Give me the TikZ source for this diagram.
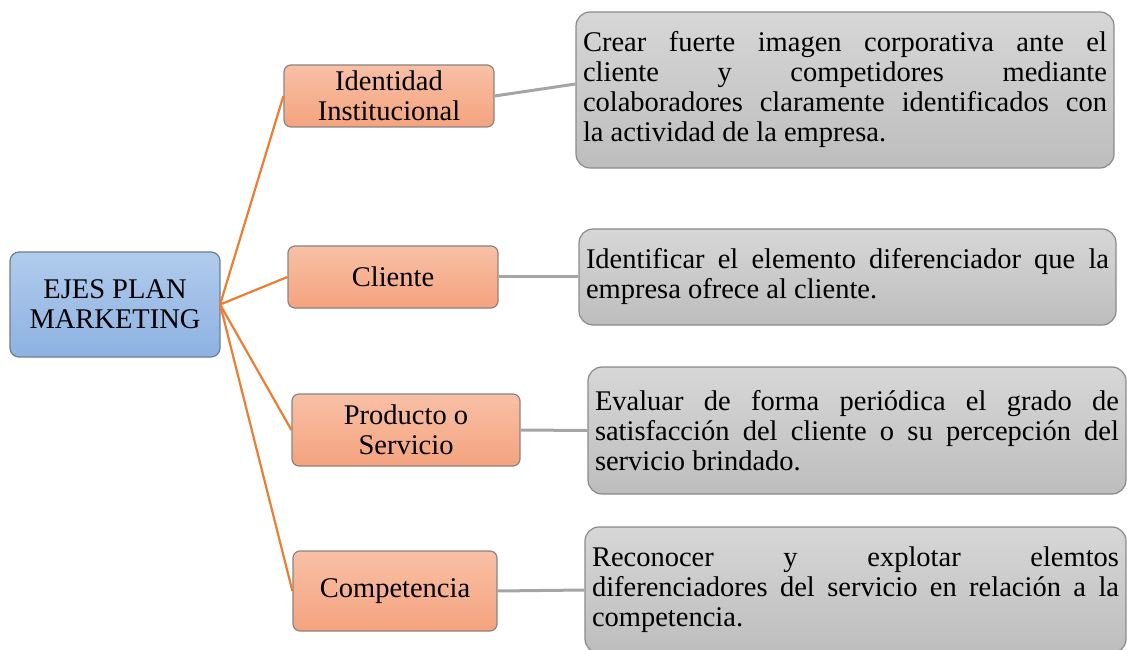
\documentclass[tikz,border=0pt]{standalone}
\usepackage{fontspec}
\setmainfont{Liberation Serif}[Ligatures=CommonOff]
\definecolor{otop}{HTML}{F8C0A6}
\definecolor{obot}{HTML}{F4A37E}
\definecolor{obord}{HTML}{8C8480}
\definecolor{btop}{HTML}{B1CBEC}
\definecolor{bbot}{HTML}{8DB2E2}
\definecolor{bbord}{HTML}{6E7E92}
\definecolor{gtop}{HTML}{D7D7D7}
\definecolor{gbot}{HTML}{BDBDBD}
\definecolor{gbord}{HTML}{8A8A8A}
\definecolor{oline}{HTML}{ED7D31}
\definecolor{gline}{HTML}{A5A5A5}
\begin{document}
\begin{tikzpicture}[x=1pt,y=1pt,
  txt/.style={font=\fontsize{28.5}{30}\selectfont},
  mainbox/.style={txt,draw=bbord,line width=1.2pt,top color=btop,bottom color=bbot,rounded corners=9pt,align=center,inner sep=0pt},
  obox/.style={txt,draw=obord,line width=1.2pt,top color=otop,bottom color=obot,rounded corners=7pt,align=center,inner sep=0pt},
  gbox/.style={txt,draw=gbord,line width=1.2pt,top color=gtop,bottom color=gbot,rounded corners=14pt,align=justify,inner xsep=7pt,inner ysep=0pt},
  oconn/.style={draw=oline,line width=2.2pt},
  gconn/.style={draw=gline,line width=3pt}]
\useasboundingbox (0,0) rectangle (1127,649);
\clip (0,0) rectangle (1127,649);
% central node
\node[mainbox,minimum width=210,minimum height=105] (main) at (115,344.5) {EJES PLAN\\MARKETING};
% orange nodes
\node[obox,minimum width=210,minimum height=62] (ide) at (389,553) {Identidad\\Institucional};
\node[obox,minimum width=210,minimum height=62] (cli) at (393,372) {Cliente};
\node[obox,minimum width=228,minimum height=72] (pro) at (406,219) {Producto o\\Servicio};
\node[obox,minimum width=204,minimum height=80] (com) at (395,58) {Competencia};
% gray nodes
\node[gbox,text width=524,minimum height=156] (g1) at (845,559)
  {Crear fuerte imagen corporativa ante el\linebreak cliente y competidores mediante\linebreak colaboradores claramente identificados con\linebreak la actividad de la empresa.};
\node[gbox,text width=523,minimum height=96] (g2) at (847.5,372)
  {Identificar el elemento diferenciador que la\linebreak empresa ofrece al cliente.};
\node[gbox,text width=524,minimum height=127] (g3) at (857,218.5)
  {Evaluar de forma peri\'odica el grado de\linebreak satisfacci\'on del cliente o su percepci\'on del\linebreak servicio brindado.};
\node[gbox,text width=527,minimum height=126] (g4) at (855.5,59)
  {Reconocer y explotar elemtos\linebreak diferenciadores del servicio en relaci\'on a la\linebreak competencia.};
% connectors
\coordinate (hub) at ([xshift=-0.5pt]main.east);
\draw[oconn] (hub) -- (ide.west);
\draw[oconn] (hub) -- (cli.west);
\draw[oconn] (hub) -- (pro.west);
\draw[oconn] (hub) -- (com.west);
\draw[gconn] (ide.east) -- ([yshift=6pt]g1.west);
\draw[gconn] (cli.east) -- (g2.west);
\draw[gconn] (pro.east) -- (g3.west);
\draw[gconn] (com.east) -- (g4.west);
\end{tikzpicture}
\end{document}
